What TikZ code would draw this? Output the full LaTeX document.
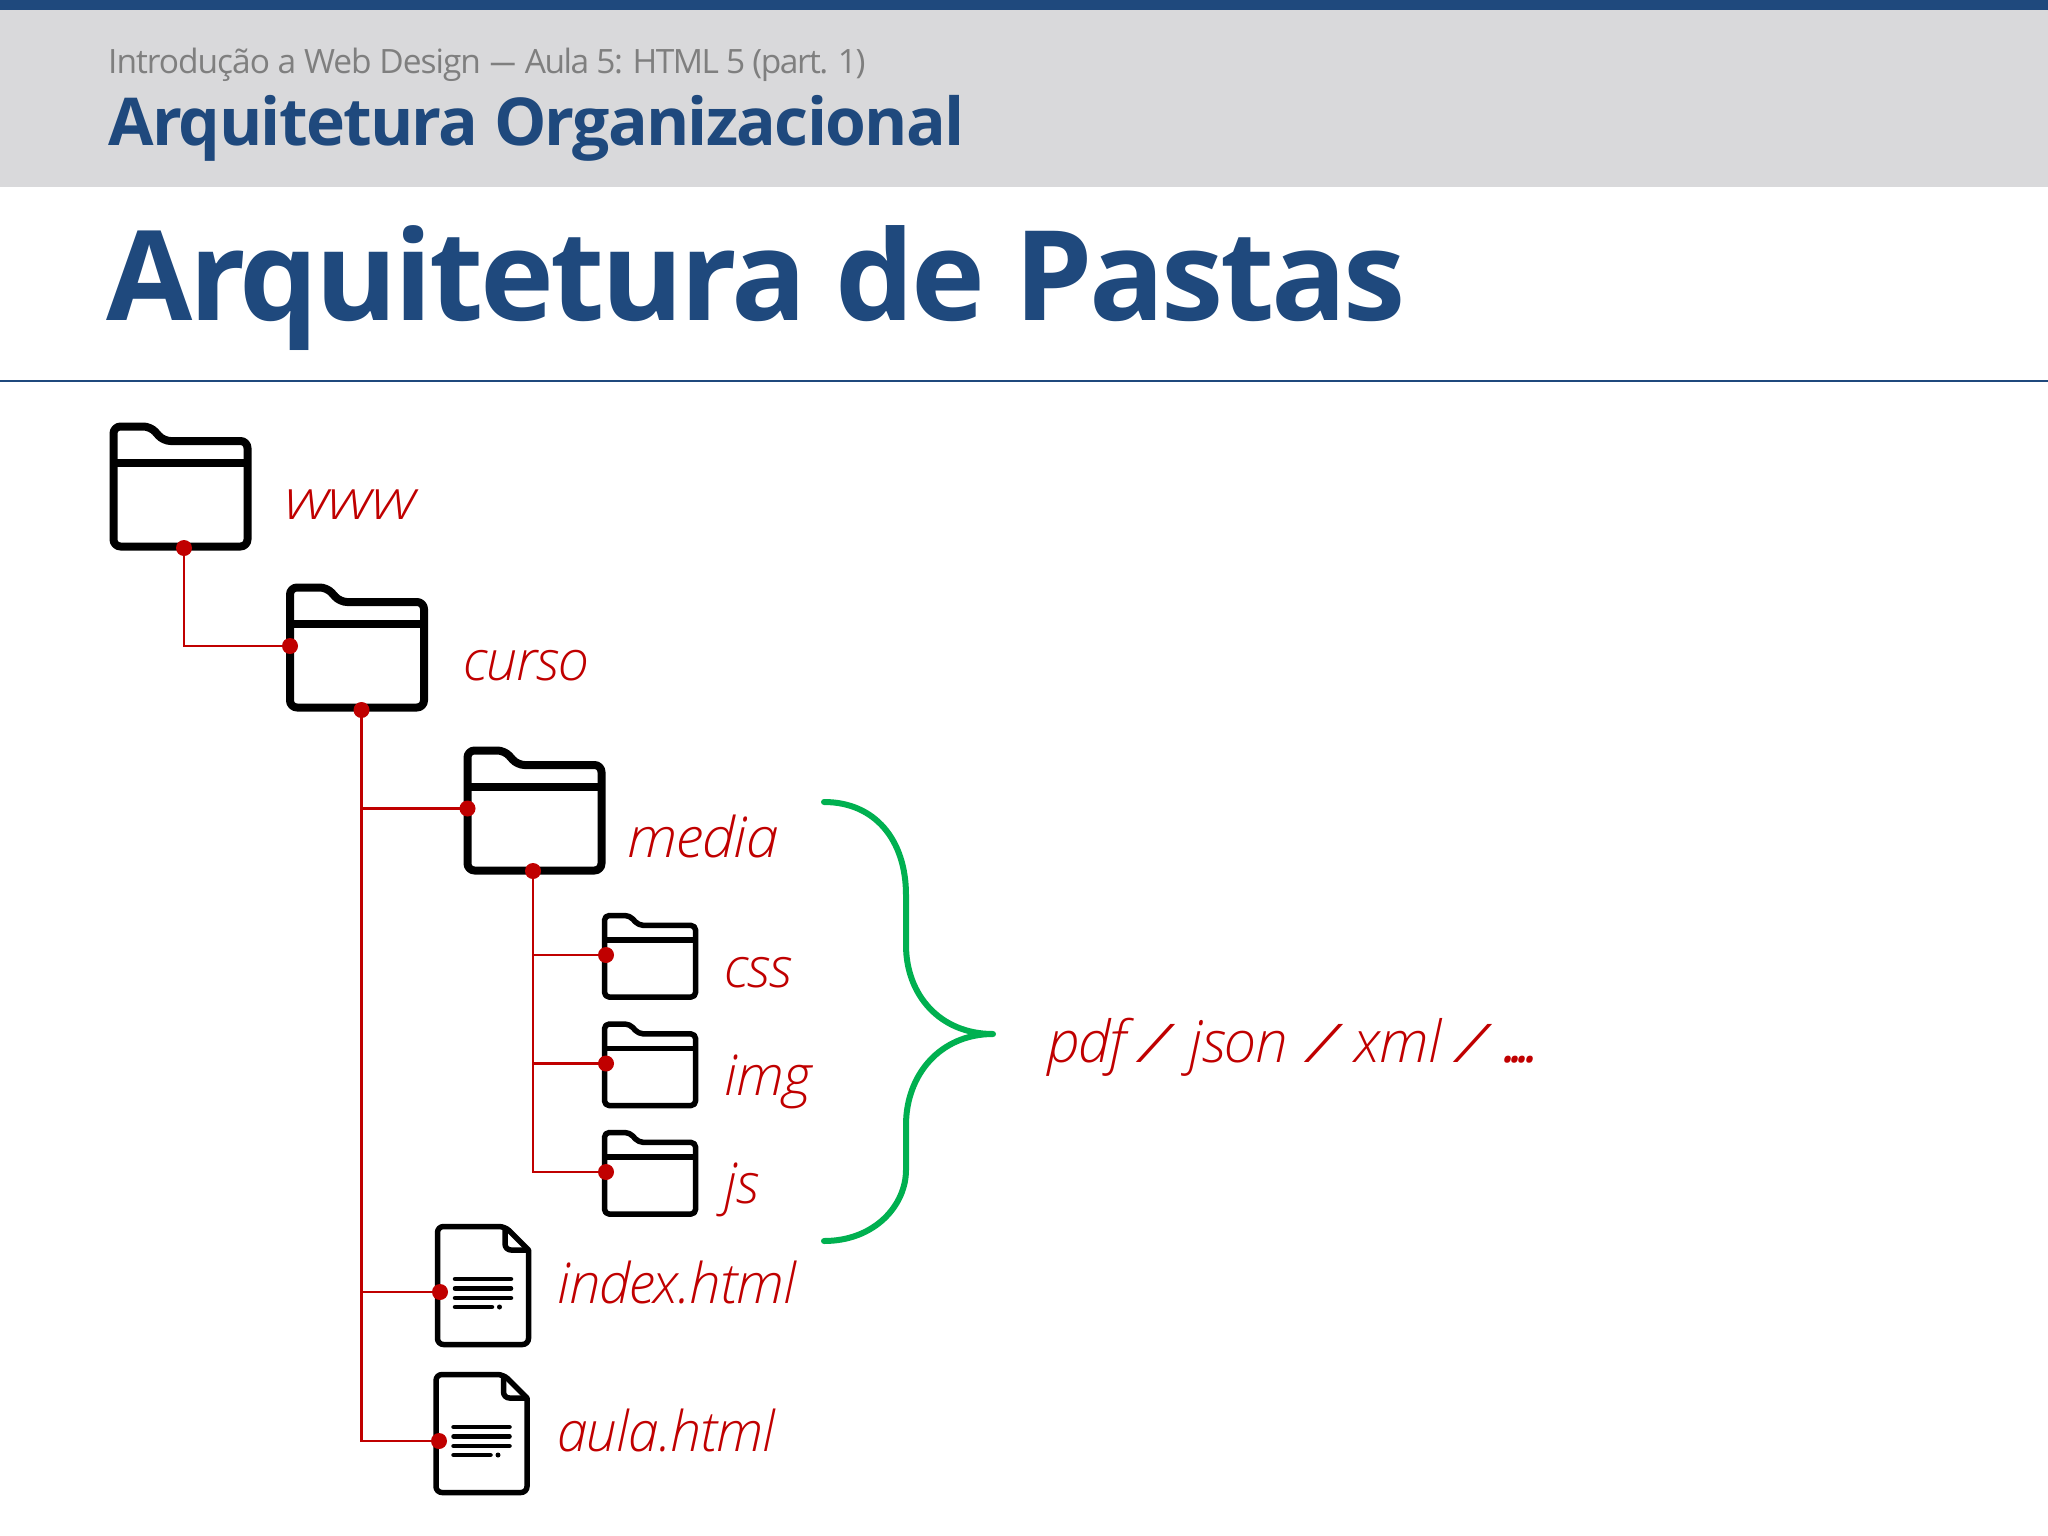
\documentclass[tikz,border=0pt]{standalone}
\usepackage{fontspec}
\setmainfont{Open Sans}
\newfontfamily\lblfont{Open Sans Light Italic}
\definecolor{hblue}{HTML}{1F497D}
\definecolor{hgray}{HTML}{D9D9DB}
\definecolor{tgray}{HTML}{7F7F7F}
\definecolor{cred}{HTML}{C00000}
\definecolor{cgreen}{HTML}{00B050}
\newcommand{\fs}[1]{\fontsize{#1}{#1}\selectfont}
\newcommand{\myfolder}[5]{% name,x,y,scale,lw
  \begin{scope}[shift={(#2,#3)},scale=#4]
    \node[ghost,minimum width=#4*134pt,minimum height=#4*120pt] (#1) at (67,60) {};
    \draw[black,line width=#5pt,line join=round,rounded corners=#4*7pt]
      (0,60) -- (0,0) -- (37,0) -- (50,14.5) -- (134,14.5) -- (134,120) -- (0,120) -- cycle;
    \draw[black,line width=#5pt] (0,36) -- (134,36);
  \end{scope}}
\newcommand{\mydoc}[3]{% name,x,y
  \begin{scope}[shift={(#2,#3)}]
    \node[ghost,minimum width=91pt,minimum height=118pt] (#1) at (45.5,59) {};
    \draw[black,line width=5.5pt,line join=round,rounded corners=6pt]
      (0,59) -- (0,0) -- (67.5,0) [sharp corners] -- (91,23.5) [rounded corners=6pt] -- (91,118) -- (0,118) -- cycle;
    \draw[black,line width=5.5pt,line join=round,rounded corners=6pt] (67.5,0) -- (67.5,23.5) -- (91,23.5);
    \draw[black,line width=4.5pt,line cap=round] (17.5,52.5) -- (73.5,52.5) (17.5,62) -- (73.5,62) (17.5,71.5) -- (73.5,71.5) (17.5,80.5) -- (54.5,80.5);
    \fill[black] (62,80.5) circle (2.5pt);
  \end{scope}}
\tikzset{
  x=1pt,y=-1pt,
  ghost/.style={inner sep=0pt,outer sep=0pt},
  lbl/.style={anchor=base west,inner sep=0pt,outer sep=0pt,text=cred,font=\fs{56}\lblfont\addfontfeatures{LetterSpace=-1.5}},
  conn/.style={draw=cred,line width=2.8pt,line join=miter},
  pin/.style={fill=cred},
}
\newcommand{\wslash}[2]{\hspace{#1pt}\scalebox{1.5}[.92]{/}\hspace{#2pt}}
\begin{document}
\begin{tikzpicture}
\useasboundingbox (0,0) rectangle (2048,1536);
\fill[white] (0,0) rectangle (2048,1536);
\fill[hgray] (0,0) rectangle (2048,187);
\fill[hblue] (0,0) rectangle (2048,10);
\draw[hblue,line width=1.6pt] (0,381) -- (2048,381);
\node[anchor=base west,inner sep=0pt,text=tgray,font=\fs{33.5}\addfontfeatures{LetterSpace=-3}] (sup) at (108,74) {Introdução a Web Design \scalebox{1.7}[1]{–} {\addfontfeatures{LetterSpace=-4.5}Aula 5: HTML 5 (part. 1)}};
\node[anchor=base west,inner sep=0pt,text=hblue,font=\fs{66}\bfseries\addfontfeatures{LetterSpace=-2.6}] (sub) at (108,145.5) {Arquitetura Organizacional};
\node[anchor=base west,inner sep=0pt,text=hblue,font=\fs{125}\bfseries\addfontfeatures{LetterSpace=-2.7}] (ttl) at (106,320) {Arquitetura de Pastas};

\myfolder{fwww}{113.5}{426.5}{1}{8}
\myfolder{fcurso}{290}{587.5}{1}{8}
\myfolder{fmedia}{467.5}{750.5}{1}{8}
\myfolder{fcss}{604.5}{915.5}{.68}{5.5}
\myfolder{fimg}{604.5}{1024}{.68}{5.5}
\myfolder{fjs}{604.5}{1132.5}{.68}{5.5}
\mydoc{dindex}{437.5}{1226.5}
\mydoc{daula}{436}{1374.5}

\coordinate (wb) at (184,548);
\coordinate (cl) at (290,646);
\coordinate (cb) at (361.5,710);
\coordinate (ml) at (467.5,808.5);
\coordinate (mb) at (533,871);
\coordinate (cssl) at (606,955);
\coordinate (imgl) at (606,1063.5);
\coordinate (jsl) at (606,1172);
\coordinate (il) at (440,1292);
\coordinate (al) at (439,1441);

\draw[conn] (wb) |- (cl);
\draw[conn] (cb) |- (al);
\draw[conn] (cb |- ml) -- (ml);
\draw[conn] (cb |- il) -- (il);
\draw[conn] (mb) |- (jsl);
\draw[conn] (mb |- cssl) -- (cssl);
\draw[conn] (mb |- imgl) -- (imgl);
\foreach \p in {wb,cl,cb,ml,mb,cssl,imgl,jsl,il,al} \fill[pin] (\p) circle (8pt);

\node[lbl] (lwww) at (285,519) {\scalebox{1.17}[1]{www}};
\node[lbl] (lcurso) at (463,680) {curso};
\node[lbl] (lmedia) at (627,857) {\scalebox{1.05}[1]{media}};
\node[lbl] (lcss) at (724,987) {css};
\node[lbl] (limg) at (724,1095) {img};
\node[lbl] (ljs) at (724,1203) {js};
\node[lbl] (lindex) at (557,1303) {index.html};
\node[lbl] (laula) at (557,1451) {\scalebox{.985}[1]{aula.html}};
\node[lbl,font=\fs{58}\lblfont\addfontfeatures{LetterSpace=-1.5}] (lpdf) at (1047,1062) {pdf\wslash{14}{22}json\wslash{21}{18}xml\wslash{16}{19}{\normalfont\itshape\fs{56}\addfontfeatures{LetterSpace=-12.5}....}};

\coordinate (bt) at (824,802);
\coordinate (bb) at (824,1241);
\coordinate (bm) at (993,1034);
\draw[cgreen,line width=6pt,line cap=round,line join=round]
  (bt) .. controls (875,802) and (906,840) .. (906,895)
  -- (906,945) .. controls (906,995) and (940,1034) .. (bm)
  .. controls (940,1034) and (906,1075) .. (906,1125)
  -- (906,1170) .. controls (906,1205) and (875,1241) .. (bb);
\end{tikzpicture}
\end{document}
